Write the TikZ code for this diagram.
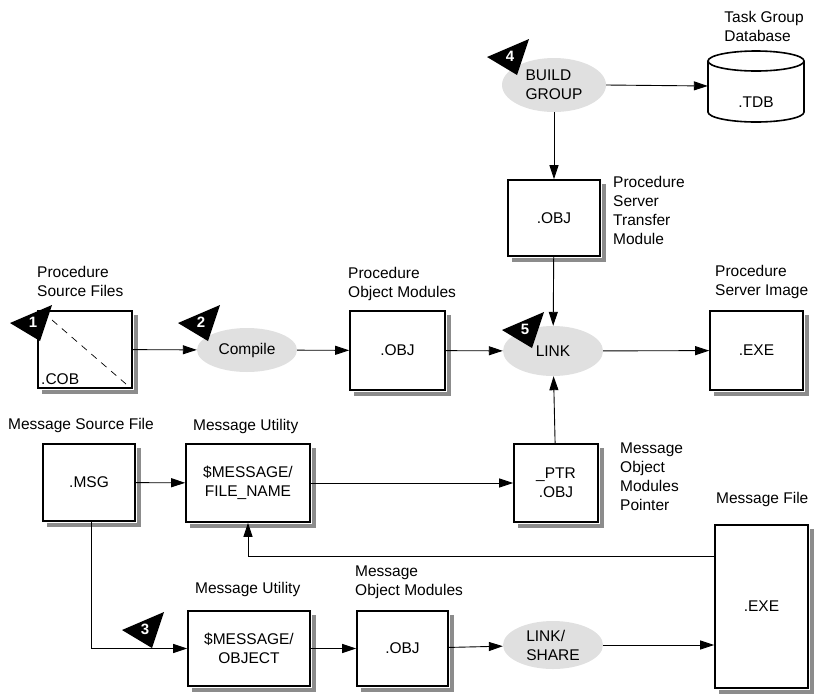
\documentclass[tikz,border=0pt]{standalone}
\usepackage{fontspec}
\setmainfont{Liberation Sans}
\usetikzlibrary{arrows.meta,shapes.geometric,calc}
\begin{document}
\begin{tikzpicture}[x=1pt,y=-1pt,font=\fontsize{15.5}{19}\selectfont,
  box/.style={draw,line width=1.6pt,fill=white,inner sep=0pt,align=center},
  oval/.style={ellipse,fill=black!12,inner sep=0pt,align=left},
  lab/.style={anchor=north west,align=left,inner sep=0pt},
  shd/.style={fill=black!45},
  arr/.style={-{Triangle[length=14pt,width=9pt]},line width=0.9pt}]
\useasboundingbox (0,0) rectangle (821,694);
% boxes
\node[box,minimum width=94pt,minimum height=77pt] (cob) at (85,349.5) {};
\node[anchor=south west,inner sep=0pt] at (41,385) {.COB};
\draw[dash pattern=on 7pt off 6pt,line width=0.7pt] (52,320) -- (126,384);
\node[oval,minimum width=100pt,minimum height=44pt] (comp) at (247,350) {Compile};
\node[box,minimum width=95pt,minimum height=79pt] (obj1) at (397.5,350.5) {.OBJ};
\node[oval,minimum width=100pt,minimum height=50pt] (link) at (553,351) {LINK};
\node[box,minimum width=93pt,minimum height=79pt] (exe) at (756.5,350.5) {.EXE};
\node[oval,minimum width=104pt,minimum height=54pt] (bg) at (554,85) {BUILD\\GROUP};
% cylinder
\node[inner sep=0pt,minimum width=96pt,minimum height=70pt] (tdb) at (756,86) {};
\draw[line width=1.6pt,fill=white] (708,61) -- (708,112) arc[start angle=180,end angle=0,x radius=48,y radius=10] -- (804,61);
\draw[line width=1.6pt,fill=white] (756,61) ellipse[x radius=48,y radius=10];
\node at (756,102) {.TDB};
\node[box,minimum width=92pt,minimum height=76pt] (objs) at (554,218) {.OBJ};
\node[box,minimum width=84pt,minimum height=78pt] (ptr) at (556,483) {\_PTR\\.OBJ};
\node[box,minimum width=92pt,minimum height=77pt] (msg) at (89,482.5) {.MSG};
\node[box,minimum width=124pt,minimum height=78pt] (fn) at (248,483) {\$MESSAGE/\\FILE\_NAME};
\node[box,minimum width=93pt,minimum height=163pt] (mf) at (761.5,606.5) {.EXE};
\node[box,minimum width=122pt,minimum height=75pt] (mo) at (249,648.5) {\$MESSAGE/\\OBJECT};
\node[box,minimum width=91pt,minimum height=75pt] (obj2) at (402.5,648.5) {.OBJ};
\node[oval,minimum width=100pt,minimum height=48pt] (ls) at (553,645) {LINK/\\SHARE};
\foreach \bx in {cob,obj1,exe,objs,ptr,msg,fn,mf,mo,obj2}{
  \path (\bx.north east) coordinate (ne) (\bx.south east) coordinate (se) (\bx.south west) coordinate (sw);
  \fill[shd] ($(ne)+(1,5)$) rectangle ($(se)+(5,5)$);
  \fill[shd] ($(sw)+(5,1)$) rectangle ($(se)+(5,5)$);}
% connectors
\draw[arr] (cob) -- (comp);
\draw[arr] (comp) -- (obj1);
\draw[arr] (obj1) -- (link);
\draw[arr] (link) -- (exe);
\draw[arr] (bg.east) -- (tdb.west);
\draw[arr] (bg) -- (objs);
\draw[arr] (objs) -- (link);
\draw[arr] (ptr) -- (link);
\draw[arr] (msg) -- (fn);
\draw[arr] (fn) -- (ptr);
\draw[arr] (mf.west |- 0,556) -- (248,556) -- (fn.south);
\draw[arr] (msg.south) ++(2,0) |- (mo.west);
\draw[arr] (mo) -- (obj2);
\draw[arr] (obj2) -- (ls);
\draw[arr] (ls) -- (ls -| mf.west);
% markers
\foreach \x/\y/\n in {10/323/1,178/323/2,122/630/3,487/57/4,502/330/5}{
  \fill (\x,\y) -- ++(42,-18) -- ++(-12,36) -- cycle;
  \node[white,font=\fontsize{15}{15}\bfseries\selectfont] at (\x+23,\y-1) {\n};}
% labels
\node[lab] at (37,266) {Procedure\\Source Files};
\node[lab] at (348,267) {Procedure\\Object Modules};
\node[lab] at (715,265) {Procedure\\Server Image};
\node[lab] at (613,176) {Procedure\\Server\\Transfer\\Module};
\node[lab,anchor=north] at (764,11) {Task Group\\Database};
\node[lab] at (8,418) {Message Source File};
\node[lab] at (193,419) {Message Utility};
\node[lab] at (620,443) {Message\\Object\\Modules\\Pointer};
\node[lab] at (716,492) {Message File};
\node[lab] at (195,582) {Message Utility};
\node[lab] at (355,566) {Message\\Object Modules};
\end{tikzpicture}
\end{document}
